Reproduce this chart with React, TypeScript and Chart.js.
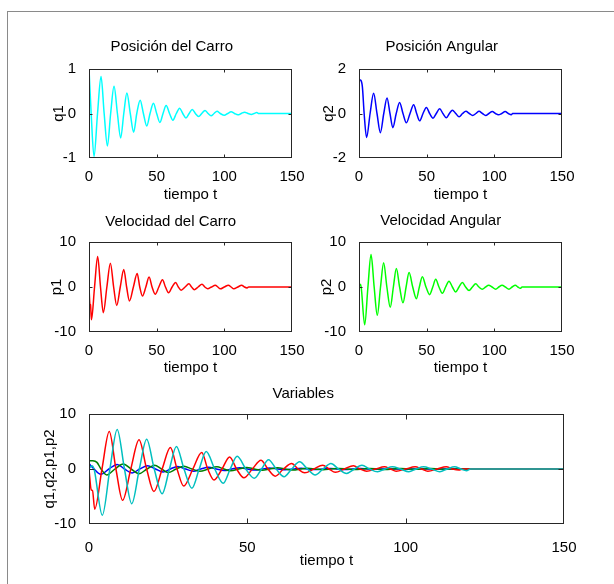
import React, { useEffect, useRef } from "react";
import { Chart, registerables } from "chart.js";
Chart.register(...registerables);

const W = 614;
const H = 584;
const FONT = "'Liberation Sans', Arial, Helvetica, sans-serif";
const FS = 15;
const HALF = FS / 2;

// ---- data ----
const q1T = [0, 1.6, 3.7, 6.3, 8.9, 11.2, 13.6, 16, 18.5, 21, 23.4, 25.7, 28, 30.5, 33, 35.3, 37.8, 40.2, 42.7, 45.1, 47.6, 50, 52.4, 54.7, 57, 59.5, 62, 64.5, 67, 69.3, 71.6, 74, 76.3, 78.6, 81, 83.3, 85.7, 88, 90.2, 92.4, 94.6, 97, 100, 102.5, 105, 107.5, 110, 112.5, 115, 117.5, 120, 122, 124, 125.5, 150];
const q1V = [1, 0, -0.97, 0, 0.83, 0, -0.73, 0, 0.61, 0, -0.55, 0, 0.46, 0, -0.42, 0, 0.3, 0, -0.28, 0, 0.23, 0, -0.2, 0, 0.18, 0, -0.15, 0, 0.12, 0, -0.1, 0, 0.09, 0, -0.07, 0, 0.07, 0, -0.05, 0, 0.05, 0, -0.04, 0, 0.04, 0, -0.03, 0, 0.03, 0, -0.02, 0, 0.02, 0, 0];

const q2T = [0, 1.2, 2.5, 3.8, 5.6, 8.2, 10.8, 13.3, 15.8, 18.3, 20.7, 22.9, 25, 27.5, 30, 32.5, 35, 37.7, 40.4, 42.6, 44.8, 47.3, 49.8, 52.2, 54.7, 57.1, 59.6, 62, 64.5, 66.8, 69, 71.5, 74, 76.5, 79, 81.5, 84, 86.4, 88.7, 91.2, 93.6, 96, 98.5, 100.8, 103, 105.5, 108, 110.3, 112.5, 113.5, 150];
const q2V = [1.52, 1.5, 1.2, 0, -1.08, 0, 0.91, 0, -0.86, 0, 0.7, 0, -0.64, 0, 0.5, 0, -0.42, 0, 0.39, 0, -0.33, 0, 0.27, 0, -0.21, 0, 0.21, 0, -0.19, 0, 0.15, 0, -0.15, 0, 0.1, 0, -0.09, 0, 0.1, 0, -0.09, 0, 0.09, 0, -0.06, 0, 0.09, 0, -0.06, 0, 0];

const p1T = [0, 0.7, 1.1, 1.8, 4.1, 6.4, 8.5, 10.6, 13.2, 15.8, 18.2, 20.5, 23.1, 25.7, 27.8, 29.9, 32.8, 35.6, 37.5, 39.5, 42, 44.4, 46.6, 48.9, 51.6, 54.3, 56.5, 58.8, 61.4, 64, 66, 68.1, 71, 73.8, 75.8, 77.8, 80.6, 83.5, 85.6, 87.7, 90.5, 93.3, 95.2, 97, 100, 103, 105, 107, 110, 112.8, 114.8, 116.8, 118, 150];
const p1V = [0, -3.8, -3.9, -7.3, 0, 6.8, 0, -5.7, 0, 5.3, 0, -4.1, 0, 3.9, 0, -3.1, 0, 3.0, 0, -2.0, 0, 2.2, 0, -1.6, 0, 1.6, 0, -1.3, 0, 1.0, 0, -0.7, 0, 0.7, 0, -0.6, 0, 0.6, 0, -0.4, 0, 0.4, 0, -0.4, 0, 0.4, 0, -0.4, 0, 0.4, 0, -0.2, 0, 0];

const p2T = [0, 0.9, 1.6, 4.2, 6.6, 8.9, 11.2, 13.5, 15.9, 18.2, 20.6, 23.1, 25.4, 27.6, 30, 32.5, 34.8, 37, 39.7, 42.4, 44.6, 46.8, 49.5, 52.2, 54.5, 56.7, 59.1, 61.6, 64, 66.5, 69, 71.4, 73.9, 76.4, 78.8, 81.3, 83.8, 86.2, 88.6, 91.1, 93.5, 95.8, 98.4, 101, 103.3, 105.7, 108.2, 110.8, 113.1, 115.5, 117.4, 119.2, 120.5, 150];
const p2V = [0, 0.6, 0, -8.4, 0, 7.2, 0, -6.3, 0, 5.4, 0, -4.5, 0, 4.1, 0, -3.5, 0, 3.2, 0, -2.6, 0, 2.3, 0, -1.7, 0, 1.7, 0, -1.4, 0, 1.3, 0, -1.1, 0, 1.0, 0, -0.8, 0, 0.7, 0, -0.5, 0, 0.4, 0, -0.5, 0, 0.4, 0, -0.5, 0, 0.4, 0, -0.3, 0, 0];

const xLabel = "tiempo t";
const titles = ["Posición del Carro", "Posición Angular", "Velocidad del Carro", "Velocidad Angular", "Variables"];
const yLabels = ["q1", "q2", "p1", "p2", "q1,q2,p1,p2"];

type Series = { t: number[]; v: number[]; color: string };
type PanelSpec = {
  title: string; ylabel: string;
  L: number; T: number; R: number; B: number;
  titleY: number; xlabY: number; ylabX: number;
  ymin: number; ymax: number; ystep: number;
  xPad: number; tickLen: number;
  series: Series[];
};

const panels: PanelSpec[] = [
  { title: titles[0], ylabel: yLabels[0], L: 89, T: 69, R: 292, B: 158, titleY: 47, xlabY: 195, ylabX: 59, ymin: -1, ymax: 1, ystep: 1, xPad: 3, tickLen: 3,
    series: [{ t: q1T, v: q1V, color: "#00ffff" }] },
  { title: titles[1], ylabel: yLabels[1], L: 359, T: 69, R: 562, B: 158, titleY: 47, xlabY: 195, ylabX: 329, ymin: -2, ymax: 2, ystep: 2, xPad: 3, tickLen: 3,
    series: [{ t: q2T, v: q2V, color: "#0000ff" }] },
  { title: titles[2], ylabel: yLabels[2], L: 89, T: 242, R: 292, B: 332, titleY: 222, xlabY: 368, ylabX: 57, ymin: -10, ymax: 10, ystep: 10, xPad: 3.5, tickLen: 3,
    series: [{ t: p1T, v: p1V, color: "#ff0000" }] },
  { title: titles[3], ylabel: yLabels[3], L: 359, T: 242, R: 562, B: 332, titleY: 221, xlabY: 368, ylabX: 327, ymin: -10, ymax: 10, ystep: 10, xPad: 3.5, tickLen: 3,
    series: [{ t: p2T, v: p2V, color: "#00ff00" }] },
  { title: titles[4], ylabel: yLabels[4], L: 89, T: 414, R: 564, B: 524, titleY: 394, xlabY: 561, ylabX: 50, ymin: -10, ymax: 10, ystep: 10, xPad: 8.5, tickLen: 5,
    series: [
      { t: q1T, v: q1V, color: "#0000ff" },
      { t: q2T, v: q2V, color: "#008000" },
      { t: p1T, v: p1V, color: "#ff0000" },
      { t: p2T, v: p2V, color: "#00bfbf" },
    ] },
];

const boxPlugin = {
  id: "matlabBox",
  afterDraw(chart: any) {
    const { ctx, chartArea: a } = chart;
    const len = chart.options.plugins.matlabBox?.tickLen ?? 3;
    const xs = chart.scales.x;
    const ys = chart.scales.y;
    ctx.save();
    ctx.strokeStyle = "#262626";
    ctx.lineWidth = 1;
    const l = Math.round(a.left) + 0.5, r = Math.round(a.right) - 0.5;
    const t = Math.round(a.top) + 0.5, b = Math.round(a.bottom) - 0.5;
    ctx.strokeRect(l, t, r - l, b - t);
    ctx.beginPath();
    for (const tk of xs.ticks) {
      if (tk.value <= xs.min || tk.value >= xs.max) continue;
      const px = Math.round(xs.getPixelForValue(tk.value)) + 0.5;
      ctx.moveTo(px, b); ctx.lineTo(px, b - len);
      ctx.moveTo(px, t); ctx.lineTo(px, t + len);
    }
    for (const tk of ys.ticks) {
      if (tk.value <= ys.min || tk.value >= ys.max) continue;
      const py = Math.round(ys.getPixelForValue(tk.value)) + 0.5;
      ctx.moveTo(l, py); ctx.lineTo(l + len, py);
      ctx.moveTo(r, py); ctx.lineTo(r - len, py);
    }
    ctx.stroke();
    ctx.restore();
  },
};

function makeConfig(p: PanelSpec): any {
  const font = { family: FONT, size: FS, lineHeight: 1, weight: "normal" };
  const padL = p.ylabX - HALF;
  const padT = p.titleY - HALF;
  const padB = H - p.xlabY - HALF;
  const padR = W - p.R;
  const n = p.series.length;
  return {
    type: "line",
    data: {
      datasets: p.series.map((s, i) => ({
        data: s.t.map((t, k) => ({ x: t, y: s.v[k] })),
        borderColor: s.color,
        backgroundColor: s.color,
        borderWidth: 1.5,
        pointRadius: 0,
        fill: false,
        cubicInterpolationMode: "monotone",
        order: n - i,
      })),
    },
    options: {
      responsive: false,
      animation: false,
      events: [],
      layout: { padding: { left: padL, top: padT, right: padR, bottom: padB } },
      plugins: {
        legend: { display: false },
        tooltip: { enabled: false },
        matlabBox: { tickLen: p.tickLen },
        title: {
          display: true,
          text: p.title,
          color: "#000",
          font,
          padding: { top: 0, bottom: p.T - p.titleY - HALF },
        },
      },
      scales: {
        x: {
          type: "linear",
          min: 0,
          max: 150,
          grid: { display: false },
          border: { display: false },
          ticks: { stepSize: 50, padding: p.xPad, color: "#000", font, maxRotation: 0, autoSkip: false },
          title: { display: true, text: xLabel, color: "#000", font, padding: 0 },
          afterFit: (s: any) => { s.height = p.xlabY + HALF - p.B; },
        },
        y: {
          type: "linear",
          min: p.ymin,
          max: p.ymax,
          grid: { display: false },
          border: { display: false },
          ticks: { stepSize: p.ystep, padding: 5, color: "#000", font },
          title: { display: true, text: p.ylabel, color: "#000", font, padding: 0 },
          afterFit: (s: any) => { s.width = p.L - padL; },
        },
      },
    },
    plugins: [boxPlugin],
  };
}

function PanelChart({ spec }: { spec: PanelSpec }) {
  const ref = useRef<HTMLCanvasElement | null>(null);
  useEffect(() => {
    if (!ref.current) return;
    const chart = new Chart(ref.current, makeConfig(spec));
    return () => chart.destroy();
  }, [spec]);
  return (
    <canvas
      ref={ref}
      width={W}
      height={H}
      style={{ position: "absolute", left: 0, top: 0, width: W, height: H }}
    />
  );
}

export default function App() {
  return (
    <div style={{ position: "absolute", left: 0, top: 0, width: W, height: H, background: "#fff", overflow: "hidden" }}>
      <div style={{ position: "absolute", left: 7, top: 11, width: 620, height: 600, borderTop: "1px solid #8a8a8a", borderLeft: "1px solid #8a8a8a" }} />
      {panels.map((p, i) => (
        <PanelChart key={i} spec={p} />
      ))}
    </div>
  );
}
